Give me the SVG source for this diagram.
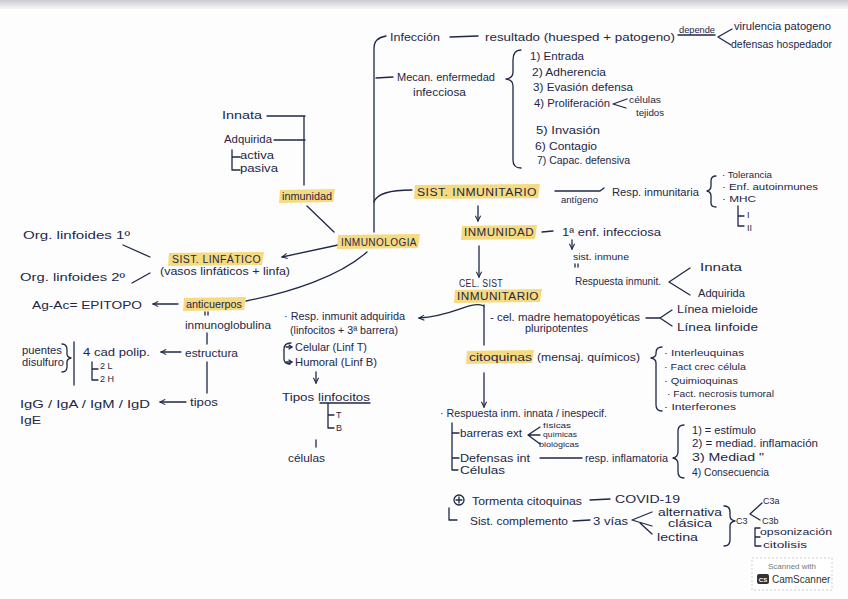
<svg xmlns="http://www.w3.org/2000/svg" width="848" height="599" viewBox="0 0 848 599">
<defs>
<style>
.t{font-family:"Liberation Sans",Arial,sans-serif;font-size:11px;fill:#1e2747}
.s{font-size:9px}
.xs{font-size:8px}
.c{font-size:10px;letter-spacing:0.4px}
.hl{fill:#f5d46a;opacity:0.85}
.ln{stroke:#1e2747;stroke-width:1.3;fill:none;stroke-linecap:round;stroke-linejoin:round}
</style>
<marker id="ah" viewBox="0 0 8 8" refX="7" refY="4" markerWidth="7" markerHeight="7" orient="auto" markerUnits="userSpaceOnUse">
<path d="M1,1 L7,4 L1,7" fill="none" stroke="#1e2747" stroke-width="1.2"/>
</marker>
<linearGradient id="top" x1="0" y1="0" x2="0" y2="1">
<stop offset="0" stop-color="#c9cbce"/>
<stop offset="1" stop-color="#f7f7f7"/>
</linearGradient>
</defs>
<rect width="848" height="599" fill="#fdfdfd"/>
<rect width="848" height="9" fill="url(#top)"/>

<g id="connectors">
<path class="ln" d="M374,232 L374,48 Q374,38 386,36"/>
<path class="ln" d="M376,78 L393,77"/>
<path class="ln" d="M374,202 Q378,190 412,190"/>
<path class="ln" d="M450,37 L478,36"/>
<path class="ln" d="M678,35 L715,35"/>
<path class="ln" d="M718,37 L732,29 M718,37 L731,45"/>
<path class="ln" d="M521,50 Q513,50 513,60 L513,72 Q513,78 506,79 Q513,80 513,86 L513,160 Q513,168 521,168"/>
<path class="ln" d="M627,99 L613,104 L626,108"/>
<path class="ln" d="M555,191 L600,191 L604,188"/>
<path class="ln" d="M716,176 Q711,176 711,181 L711,186 Q711,190 707,191 Q711,192 711,196 L711,203 Q711,207 716,207"/>
<path class="ln" d="M738,206 L738,226 L744,226 M738,216 L744,216"/>
<path class="ln" d="M478,206 L478,221" marker-end="url(#ah)"/>
<path class="ln" d="M542,232 L553,231"/>
<path class="ln" d="M572,240 L572,249" marker-end="url(#ah)"/>
<path class="ln" d="M690,268 L669,282 L690,295"/>
<path class="ln" d="M479,246 L479,277" marker-end="url(#ah)"/>
<path class="ln" d="M484,305 L484,345"/>
<path class="ln" d="M484,306 C470,300 455,316 419,318" marker-end="url(#ah)"/>
<path class="ln" d="M646,318 L660,318 L672,310 M660,318 L672,326"/>
<path class="ln" d="M662,347 Q656,347 656,353 L656,354 Q656,357 651,358 Q656,359 656,363 L656,405 Q656,411 662,411"/>
<path class="ln" d="M484,373 L484,407" marker-end="url(#ah)"/>
<path class="ln" d="M452,423 L452,470 L458,470 M452,433 L459,433 M452,458 L459,458"/>
<path class="ln" d="M540,427 L528,435 L540,444 M528,435 L540,435"/>
<path class="ln" d="M540,458 L582,458"/>
<path class="ln" d="M684,425 Q678,425 678,431 L678,452 Q678,457 673,458 Q678,459 678,464 L678,472 Q678,478 684,478"/>
<circle class="ln" cx="459" cy="500" r="5"/>
<path class="ln" d="M459,497 L459,503 M456,500 L462,500"/>
<path class="ln" d="M449,508 L449,520 L457,520"/>
<path class="ln" d="M590,500 L610,499"/>
<path class="ln" d="M573,521 L590,520"/>
<path class="ln" d="M652,512 L632,520 L652,526 M640,523 L652,534"/>
<path class="ln" d="M724,506 Q730,506 730,512 L730,516 Q730,520 735,521 Q730,522 730,526 L730,540 Q730,546 724,546"/>
<path class="ln" d="M762,503 L750,514 L760,520"/>
<path class="ln" d="M760,528 L755,528 L755,546 L761,546 M755,537 L760,537"/>
<path class="ln" d="M267,116 L305,116 M274,140 L305,140 M304,116 L304,185"/>
<path class="ln" d="M232,150 L232,170 L240,170 M232,157 L240,157"/>
<path class="ln" d="M307,206 L334,232"/>
<path class="ln" d="M338,245 L282,257" marker-end="url(#ah)"/>
<path class="ln" d="M367,252 C340,276 292,292 246,301"/>
<path class="ln" d="M123,245 L150,257"/>
<path class="ln" d="M132,283 L150,273"/>
<path class="ln" d="M178,304 L153,304" marker-end="url(#ah)"/>
<path class="ln" d="M207,333 L207,344 M207,362 L207,393"/>
<path class="ln" d="M181,352 L161,352" marker-end="url(#ah)"/>
<path class="ln" d="M92,362 L92,380 L98,380 M92,369 L98,369"/>
<path class="ln" d="M62,344 Q67,344 67,350 L67,354 Q67,357 71,358 Q67,359 67,362 L67,367 Q67,372 62,372"/>
<path class="ln" d="M74,342 L74,385"/>
<path class="ln" d="M186,402 L160,402" marker-end="url(#ah)"/>
<path class="ln" d="M291,343 Q284,343 284,349 L284,359 Q284,364 290,364"/>
<path class="ln" d="M286,347 L292,347 M286,362 L292,362"/>
<path class="ln" d="M289,345 L292,347 L289,349 M289,360 L292,362 L289,364"/>
<path class="ln" d="M316,372 L316,383" marker-end="url(#ah)"/>
<path class="ln" d="M320,403 L370,403 M328,404 L328,428 L334,428 M328,415 L334,415"/>
<path class="ln" d="M316,440 L316,447"/>
<path class="ln" d="M205,312 L205,315 M208,312 L208,315"/>
<path class="ln" d="M575,264 L575,267 M578,264 L578,267"/>
</g>

<g id="n-infeccion">
<text class="t" x="390" y="41" textLength="50" lengthAdjust="spacingAndGlyphs">Infección</text>
<text class="t" x="485" y="41" textLength="190" lengthAdjust="spacingAndGlyphs">resultado (huesped + patogeno)</text>
<text class="t s" x="679" y="33" textLength="36" lengthAdjust="spacingAndGlyphs">depende</text>
<text class="t" x="734" y="30" textLength="97" lengthAdjust="spacingAndGlyphs">virulencia patogeno</text>
<text class="t" x="731" y="48" textLength="101" lengthAdjust="spacingAndGlyphs">defensas hospedador</text>
</g>

<g id="n-mecanismo">
<text class="t" x="397" y="81" textLength="98" lengthAdjust="spacingAndGlyphs">Mecan. enfermedad</text>
<text class="t" x="413" y="96" textLength="53" lengthAdjust="spacingAndGlyphs">infecciosa</text>
<text class="t" x="530" y="60" textLength="54" lengthAdjust="spacingAndGlyphs">1) Entrada</text>
<text class="t" x="532" y="76" textLength="74" lengthAdjust="spacingAndGlyphs">2) Adherencia</text>
<text class="t" x="533" y="91" textLength="100" lengthAdjust="spacingAndGlyphs">3) Evasión defensa</text>
<text class="t" x="534" y="107" textLength="76" lengthAdjust="spacingAndGlyphs">4) Proliferación</text>
<text class="t s" x="629" y="103" textLength="32" lengthAdjust="spacingAndGlyphs">células</text>
<text class="t s" x="636" y="116" textLength="28" lengthAdjust="spacingAndGlyphs">tejidos</text>
<text class="t" x="536" y="134" textLength="64" lengthAdjust="spacingAndGlyphs">5) Invasión</text>
<text class="t" x="535" y="150" textLength="62" lengthAdjust="spacingAndGlyphs">6) Contagio</text>
<text class="t" x="537" y="164" textLength="93" lengthAdjust="spacingAndGlyphs">7) Capac. defensiva</text>
</g>

<g id="n-sist-inmunitario">
<path class="hl" d="M415,185 L540,184 L538,198 L414,199 Z"/>
<text class="t c" x="417" y="196" textLength="120" lengthAdjust="spacingAndGlyphs">SIST. INMUNITARIO</text>
<text class="t s" x="561" y="203" textLength="37" lengthAdjust="spacingAndGlyphs">antígeno</text>
<text class="t" x="612" y="196" textLength="87" lengthAdjust="spacingAndGlyphs">Resp. inmunitaria</text>
<text class="t s" x="722" y="178" textLength="50" lengthAdjust="spacingAndGlyphs">· Tolerancia</text>
<text class="t s" x="722" y="190" textLength="96" lengthAdjust="spacingAndGlyphs">· Enf. autoinmunes</text>
<text class="t s" x="722" y="202" textLength="34" lengthAdjust="spacingAndGlyphs">· MHC</text>
<text class="t s" x="747" y="218">I</text>
<text class="t s" x="747" y="231">II</text>
</g>

<g id="n-inmunidad-r">
<path class="hl" d="M462,226 L537,225 L535,239 L461,240 Z"/>
<text class="t c" x="464" y="236" textLength="70" lengthAdjust="spacingAndGlyphs">INMUNIDAD</text>
<text class="t" x="562" y="236" textLength="99" lengthAdjust="spacingAndGlyphs">1ª enf. infecciosa</text>
<text class="t s" x="573" y="260" textLength="56" lengthAdjust="spacingAndGlyphs">sist. inmune</text>
<text class="t" x="575" y="285" textLength="86" lengthAdjust="spacingAndGlyphs">Respuesta inmunit.</text>
<text class="t" x="700" y="271" textLength="42" lengthAdjust="spacingAndGlyphs">Innata</text>
<text class="t" x="698" y="297" textLength="47" lengthAdjust="spacingAndGlyphs">Adquirida</text>
</g>

<g id="n-cel-sist">
<text class="t c" x="459" y="287" textLength="44" lengthAdjust="spacingAndGlyphs">CEL. SIST</text>
<path class="hl" d="M455,290 L542,289 L540,302 L454,303 Z"/>
<text class="t c" x="457" y="300" textLength="82" lengthAdjust="spacingAndGlyphs">INMUNITARIO</text>
<text class="t" x="490" y="321" textLength="150" lengthAdjust="spacingAndGlyphs">- cel. madre hematopoyéticas</text>
<text class="t" x="525" y="332" textLength="63" lengthAdjust="spacingAndGlyphs">pluripotentes</text>
<text class="t" x="677" y="313" textLength="81" lengthAdjust="spacingAndGlyphs">Línea mieloide</text>
<text class="t" x="677" y="331" textLength="81" lengthAdjust="spacingAndGlyphs">Línea linfoide</text>
</g>

<g id="n-citoquinas">
<path class="hl" d="M467,351 L534,350 L532,363 L466,364 Z"/>
<text class="t" x="469" y="361" textLength="63" lengthAdjust="spacingAndGlyphs">citoquinas</text>
<text class="t" x="537" y="361" textLength="103" lengthAdjust="spacingAndGlyphs">(mensaj. químicos)</text>
<text class="t s" x="664" y="356" textLength="80" lengthAdjust="spacingAndGlyphs">· Interleuquinas</text>
<text class="t s" x="664" y="370" textLength="82" lengthAdjust="spacingAndGlyphs">· Fact crec célula</text>
<text class="t s" x="664" y="384" textLength="74" lengthAdjust="spacingAndGlyphs">· Quimioquinas</text>
<text class="t s" x="667" y="397" textLength="107" lengthAdjust="spacingAndGlyphs">· Fact. necrosis tumoral</text>
<text class="t s" x="664" y="410" textLength="72" lengthAdjust="spacingAndGlyphs">· Interferones</text>
</g>

<g id="n-resp-innata">
<text class="t" x="440" y="417" textLength="167" lengthAdjust="spacingAndGlyphs">· Respuesta inm. innata / inespecif.</text>
<text class="t" x="460" y="437" textLength="62" lengthAdjust="spacingAndGlyphs">barreras ext</text>
<text class="t xs" x="543" y="428" textLength="28" lengthAdjust="spacingAndGlyphs">físicas</text>
<text class="t xs" x="543" y="437" textLength="34" lengthAdjust="spacingAndGlyphs">químicas</text>
<text class="t xs" x="539" y="447" textLength="40" lengthAdjust="spacingAndGlyphs">biológicas</text>
<text class="t" x="460" y="462" textLength="70" lengthAdjust="spacingAndGlyphs">Defensas int</text>
<text class="t" x="585" y="462" textLength="83" lengthAdjust="spacingAndGlyphs">resp. inflamatoria</text>
<text class="t" x="460" y="474" textLength="45" lengthAdjust="spacingAndGlyphs">Células</text>
<text class="t" x="692" y="434" textLength="64" lengthAdjust="spacingAndGlyphs">1) = estímulo</text>
<text class="t" x="692" y="447" textLength="126" lengthAdjust="spacingAndGlyphs">2) = mediad. inflamación</text>
<text class="t" x="692" y="461" textLength="72" lengthAdjust="spacingAndGlyphs">3) Mediad   "</text>
<text class="t" x="692" y="476" textLength="77" lengthAdjust="spacingAndGlyphs">4) Consecuencia</text>
</g>

<g id="n-complemento">
<text class="t" x="472" y="505" textLength="110" lengthAdjust="spacingAndGlyphs">Tormenta citoquinas</text>
<text class="t" x="615" y="503" textLength="65" lengthAdjust="spacingAndGlyphs">COVID-19</text>
<text class="t" x="470" y="525" textLength="98" lengthAdjust="spacingAndGlyphs">Sist. complemento</text>
<text class="t" x="593" y="525" textLength="35" lengthAdjust="spacingAndGlyphs">3 vías</text>
<text class="t" x="658" y="516" textLength="64" lengthAdjust="spacingAndGlyphs">alternativa</text>
<text class="t" x="668" y="527" textLength="44" lengthAdjust="spacingAndGlyphs">clásica</text>
<text class="t" x="657" y="541" textLength="41" lengthAdjust="spacingAndGlyphs">lectina</text>
<text class="t s" x="736" y="524">C3</text>
<text class="t s" x="763" y="504">C3a</text>
<text class="t s" x="762" y="524">C3b</text>
<text class="t s" x="760" y="535" textLength="72" lengthAdjust="spacingAndGlyphs">opsonización</text>
<text class="t s" x="763" y="548" textLength="44" lengthAdjust="spacingAndGlyphs">citolisis</text>
</g>

<g id="n-inmunidad-l">
<text class="t" x="222" y="119" textLength="40" lengthAdjust="spacingAndGlyphs">Innata</text>
<text class="t" x="224" y="143" textLength="48" lengthAdjust="spacingAndGlyphs">Adquirida</text>
<text class="t" x="240" y="159" textLength="34" lengthAdjust="spacingAndGlyphs">activa</text>
<text class="t" x="240" y="172" textLength="38" lengthAdjust="spacingAndGlyphs">pasiva</text>
<path class="hl" d="M280,190 L335,189 L333,202 L279,203 Z"/>
<text class="t" x="282" y="200" textLength="50" lengthAdjust="spacingAndGlyphs">inmunidad</text>
</g>

<g id="n-inmunologia">
<path class="hl" d="M338,235 L420,234 L418,248 L337,249 Z"/>
<text class="t c" x="341" y="246" textLength="76" lengthAdjust="spacingAndGlyphs">INMUNOLOGIA</text>
</g>

<g id="n-sist-linfatico">
<path class="hl" d="M169,253 L264,252 L262,265 L168,266 Z"/>
<text class="t c" x="172" y="263" textLength="89" lengthAdjust="spacingAndGlyphs">SIST. LINFÁTICO</text>
<text class="t" x="160" y="275" textLength="130" lengthAdjust="spacingAndGlyphs">(vasos linfáticos + linfa)</text>
<text class="t" x="23" y="239" textLength="107" lengthAdjust="spacingAndGlyphs">Org. linfoides 1º</text>
<text class="t" x="20" y="281" textLength="105" lengthAdjust="spacingAndGlyphs">Org. linfoides 2º</text>
</g>

<g id="n-anticuerpos">
<text class="t" x="32" y="309" textLength="110" lengthAdjust="spacingAndGlyphs">Ag-Ac= EPITOPO</text>
<path class="hl" d="M184,298 L246,297 L244,310 L183,311 Z"/>
<text class="t" x="186" y="308" textLength="56" lengthAdjust="spacingAndGlyphs">anticuerpos</text>
<text class="t" x="185" y="329" textLength="86" lengthAdjust="spacingAndGlyphs">inmunoglobulina</text>
<text class="t" x="185" y="357" textLength="53" lengthAdjust="spacingAndGlyphs">estructura</text>
<text class="t" x="83" y="356" textLength="67" lengthAdjust="spacingAndGlyphs">4 cad polip.</text>
<text class="t s" x="100" y="369">2 L</text>
<text class="t s" x="100" y="382">2 H</text>
<text class="t" x="22" y="354" textLength="40" lengthAdjust="spacingAndGlyphs">puentes</text>
<text class="t" x="22" y="366" textLength="42" lengthAdjust="spacingAndGlyphs">disulfuro</text>
<text class="t" x="190" y="406" textLength="28" lengthAdjust="spacingAndGlyphs">tipos</text>
<text class="t" x="20" y="408" textLength="130" lengthAdjust="spacingAndGlyphs">IgG / IgA / IgM / IgD</text>
<text class="t" x="20" y="424" textLength="21" lengthAdjust="spacingAndGlyphs">IgE</text>
</g>

<g id="n-resp-adquirida">
<text class="t" x="284" y="320" textLength="121" lengthAdjust="spacingAndGlyphs">· Resp. inmunit adquirida</text>
<text class="t" x="290" y="334" textLength="108" lengthAdjust="spacingAndGlyphs">(linfocitos + 3ª barrera)</text>
<text class="t" x="295" y="351" textLength="72" lengthAdjust="spacingAndGlyphs">Celular (Linf T)</text>
<text class="t" x="295" y="366" textLength="82" lengthAdjust="spacingAndGlyphs">Humoral (Linf B)</text>
<text class="t" x="282" y="401" textLength="88" lengthAdjust="spacingAndGlyphs">Tipos linfocitos</text>
<text class="t s" x="336" y="418">T</text>
<text class="t s" x="336" y="431">B</text>
<text class="t" x="288" y="462" textLength="37" lengthAdjust="spacingAndGlyphs">células</text>
</g>

<g id="badge">
<rect x="752" y="558" width="80" height="32" fill="#ffffff" stroke="#cfcfcf" stroke-dasharray="2,2"/>
<text x="792" y="569" text-anchor="middle" style="font-family:'Liberation Sans',Arial,sans-serif;font-size:8px;fill:#777">Scanned with</text>
<rect x="757" y="574" width="12" height="10" rx="2" fill="#333"/>
<text x="763" y="582" text-anchor="middle" style="font-family:'Liberation Sans',Arial,sans-serif;font-size:6px;font-weight:bold;fill:#fff">CS</text>
<text x="772" y="583" style="font-family:'Liberation Sans',Arial,sans-serif;font-size:10px;fill:#333">CamScanner</text>
</g>
</svg>
